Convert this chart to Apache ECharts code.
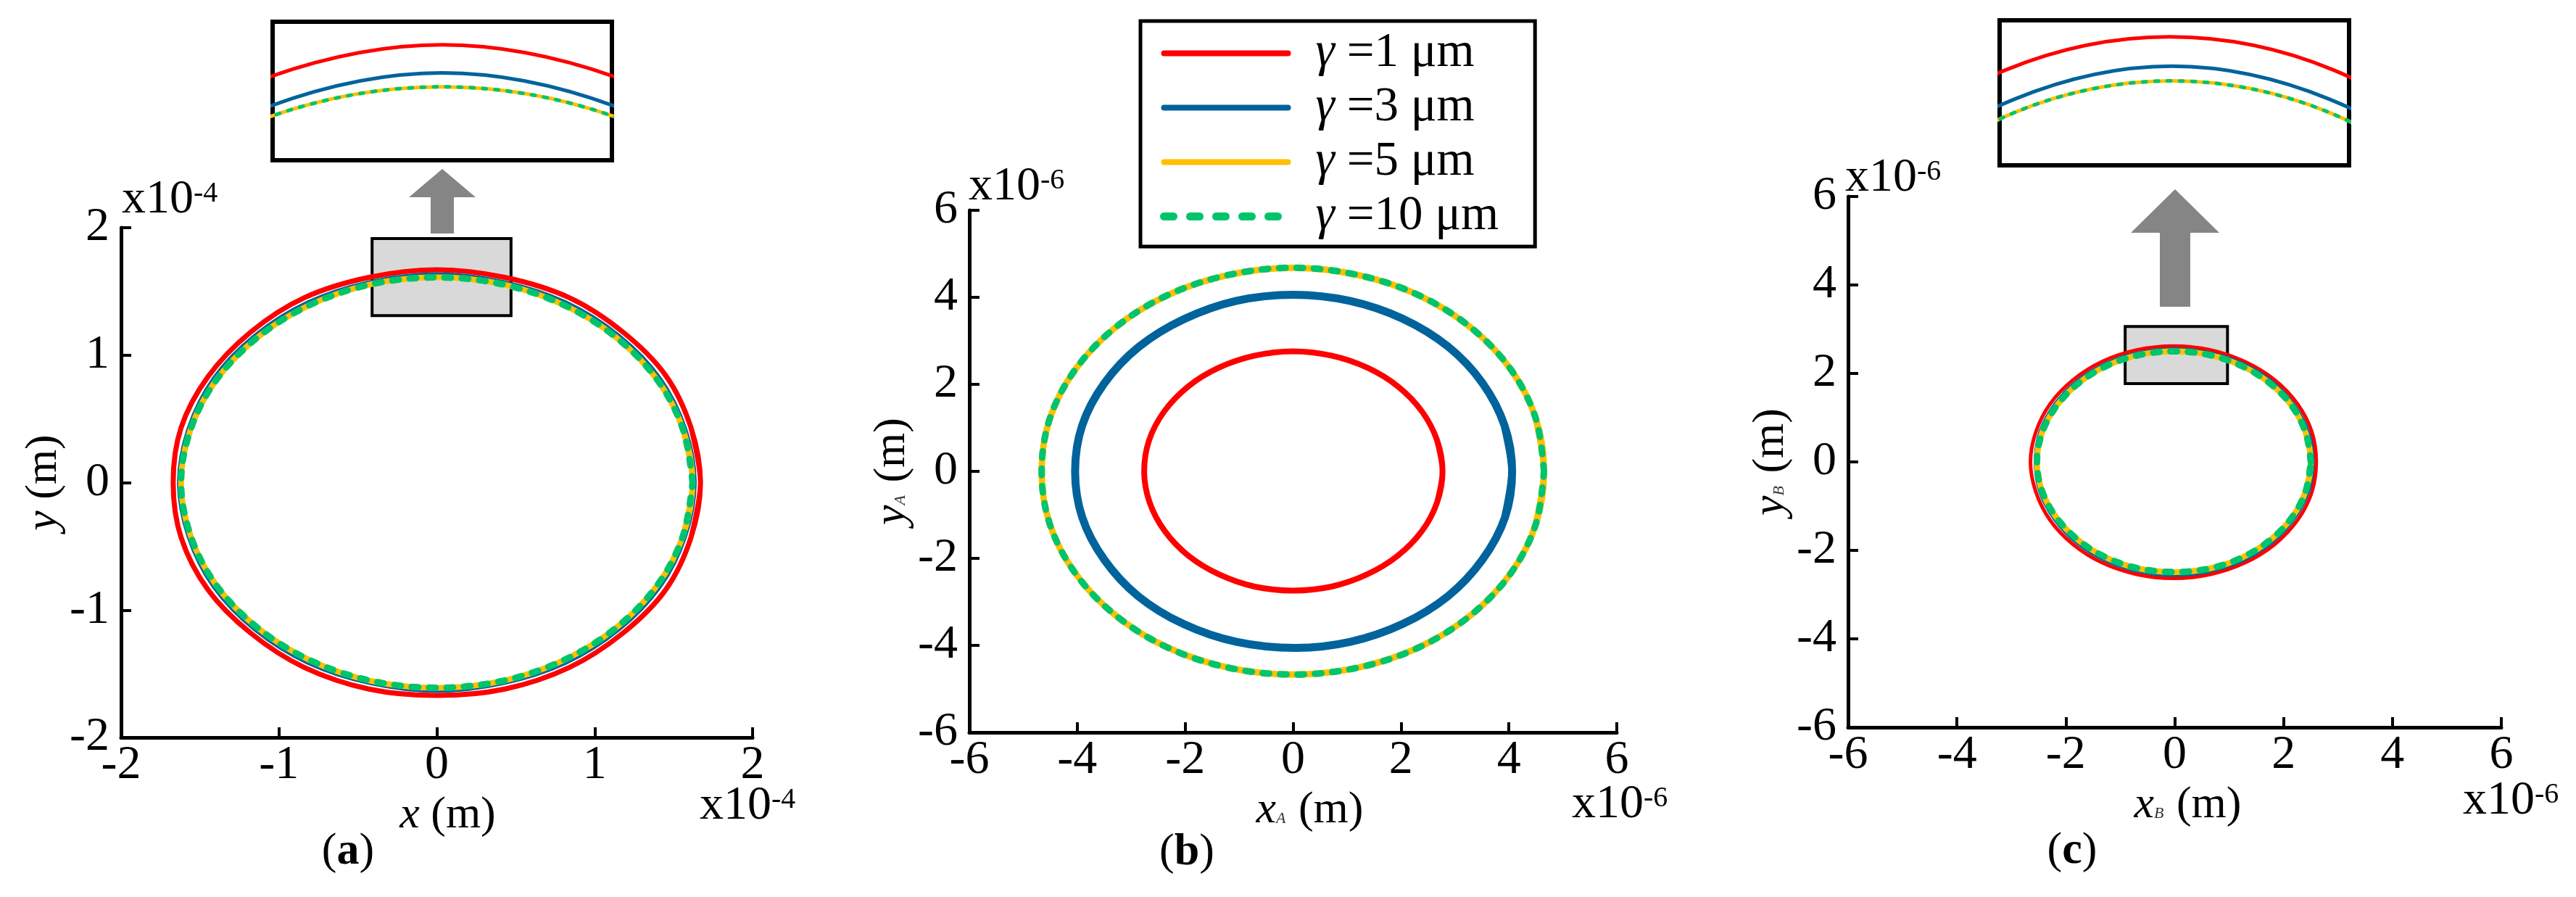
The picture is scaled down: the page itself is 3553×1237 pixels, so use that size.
<!DOCTYPE html>
<html><head><meta charset="utf-8">
<script src="https://cdn.jsdelivr.net/npm/echarts@6/dist/echarts.min.js"></script>
<style>html,body{margin:0;padding:0;background:#fff}#c{width:3553px;height:1237px}</style>
</head><body><div id="c"></div><script>
// ---------------- data ----------------
const seriesNames = ['γ =1 μm', 'γ =3 μm', 'γ =5 μm', 'γ =10 μm'];
const ticksA = [-2, -1, 0, 1, 2];            // panel (a), x10^-4 m
const ticksBC = [-6, -4, -2, 0, 2, 4, 6];    // panels (b),(c), x10^-6 m
const expA = '-4';
const expBC = '-6';
const panelLetters = ['a', 'b', 'c'];

// panel (a): x (m), y (m)  [x10^-4]
const aRed = [[1.67,0],[1.61,0.43],[1.45,0.84],[1.18,1.18],[0.84,1.45],[0.43,1.61],[0,1.67],[-0.43,1.61],[-0.84,1.45],[-1.18,1.18],[-1.45,0.83],[-1.62,0.43],[-1.67,0],[-1.62,-0.43],[-1.45,-0.84],[-1.18,-1.18],[-0.84,-1.45],[-0.43,-1.62],[0,-1.67],[0.43,-1.62],[0.84,-1.45],[1.18,-1.18],[1.45,-0.84],[1.61,-0.43],[1.67,0]];
const aBlue = [[1.63,0],[1.57,0.42],[1.41,0.815],[1.15,1.15],[0.815,1.41],[0.42,1.57],[0,1.63],[-0.42,1.57],[-0.815,1.41],[-1.15,1.15],[-1.41,0.815],[-1.57,0.42],[-1.63,0],[-1.57,-0.42],[-1.41,-0.815],[-1.15,-1.15],[-0.815,-1.41],[-0.42,-1.57],[0,-1.63],[0.42,-1.57],[0.815,-1.41],[1.15,-1.15],[1.41,-0.815],[1.57,-0.42],[1.63,0]];
const aYellow = [[1.62,0],[1.56,0.415],[1.40,0.80],[1.14,1.135],[0.81,1.39],[0.42,1.555],[0,1.61],[-0.42,1.555],[-0.81,1.39],[-1.14,1.135],[-1.40,0.80],[-1.56,0.415],[-1.62,0],[-1.56,-0.415],[-1.40,-0.80],[-1.14,-1.135],[-0.81,-1.39],[-0.42,-1.555],[0,-1.61],[0.42,-1.555],[0.81,-1.39],[1.14,-1.135],[1.40,-0.80],[1.56,-0.415],[1.62,0]];
const aGreen = [[1.62,0],[1.56,0.415],[1.40,0.80],[1.14,1.135],[0.81,1.39],[0.42,1.555],[0,1.61],[-0.42,1.555],[-0.81,1.39],[-1.14,1.135],[-1.40,0.80],[-1.56,0.415],[-1.62,0],[-1.56,-0.415],[-1.40,-0.80],[-1.14,-1.135],[-0.81,-1.39],[-0.42,-1.555],[0,-1.61],[0.42,-1.555],[0.81,-1.39],[1.14,-1.135],[1.40,-0.80],[1.56,-0.415],[1.62,0]];

// panel (b): xA (m), yA (m)  [x10^-6]
const bRed = [[2.77,0],[2.67,0.71],[2.39,1.375],[1.95,1.945],[1.38,2.38],[0.71,2.66],[0,2.76],[-0.71,2.66],[-1.38,2.38],[-1.95,1.945],[-2.39,1.375],[-2.67,0.71],[-2.76,0],[-2.66,-0.71],[-2.38,-1.37],[-1.94,-1.94],[-1.37,-2.37],[-0.71,-2.65],[0,-2.74],[0.71,-2.65],[1.37,-2.37],[1.94,-1.94],[2.39,-1.37],[2.67,-0.71],[2.77,0]];
const bBlue = [[4.06,0],[3.92,1.05],[3.51,2.03],[2.87,2.87],[2.03,3.51],[1.05,3.92],[0,4.06],[-1.05,3.92],[-2.02,3.50],[-2.86,2.86],[-3.50,2.02],[-3.91,1.05],[-4.04,0],[-3.91,-1.05],[-3.50,-2.03],[-2.87,-2.87],[-2.03,-3.51],[-1.05,-3.92],[0.05,-4.06],[1.06,-3.92],[2.03,-3.51],[2.87,-2.87],[3.51,-2.03],[3.93,-1.05],[4.06,0]];
const bYellow = [[4.65,0],[4.50,1.21],[4.04,2.335],[3.30,3.30],[2.335,4.045],[1.21,4.51],[0,4.68],[-1.21,4.51],[-2.335,4.045],[-3.30,3.30],[-4.04,2.335],[-4.51,1.21],[-4.66,0],[-4.51,-1.21],[-4.04,-2.335],[-3.30,-3.30],[-2.335,-4.045],[-1.21,-4.51],[0,-4.67],[1.21,-4.51],[2.335,-4.045],[3.30,-3.30],[4.04,-2.335],[4.50,-1.21],[4.65,0]];
const bGreen = [[4.65,0],[4.50,1.21],[4.04,2.335],[3.30,3.30],[2.335,4.045],[1.21,4.51],[0,4.68],[-1.21,4.51],[-2.335,4.045],[-3.30,3.30],[-4.04,2.335],[-4.51,1.21],[-4.66,0],[-4.51,-1.21],[-4.04,-2.335],[-3.30,-3.30],[-2.335,-4.045],[-1.21,-4.51],[0,-4.67],[1.21,-4.51],[2.335,-4.045],[3.30,-3.30],[4.04,-2.335],[4.50,-1.21],[4.65,0]];

// panel (c): xB (m), yB (m)  [x10^-6]
const cRed = [[2.60,0],[2.52,0.675],[2.26,1.305],[1.84,1.85],[1.29,2.265],[0.66,2.53],[-0.02,2.62],[-0.70,2.53],[-1.33,2.27],[-1.87,1.85],[-2.29,1.31],[-2.55,0.68],[-2.65,0],[-2.55,-0.68],[-2.29,-1.315],[-1.87,-1.86],[-1.33,-2.28],[-0.70,-2.54],[-0.02,-2.63],[0.66,-2.54],[1.29,-2.28],[1.84,-1.86],[2.26,-1.31],[2.52,-0.68],[2.60,0]];
const cBlue = [[2.53,0],[2.45,0.655],[2.19,1.27],[1.79,1.795],[1.26,2.20],[0.645,2.45],[-0.01,2.54],[-0.665,2.45],[-1.28,2.20],[-1.81,1.795],[-2.21,1.27],[-2.47,0.655],[-2.55,0],[-2.47,-0.655],[-2.21,-1.27],[-1.81,-1.80],[-1.28,-2.21],[-0.665,-2.46],[-0.01,-2.55],[0.645,-2.46],[1.26,-2.21],[1.79,-1.80],[2.19,-1.27],[2.45,-0.655],[2.53,0]];
const cYellow = [[2.50,0],[2.41,0.645],[2.16,1.25],[1.76,1.765],[1.24,2.165],[0.64,2.415],[-0.01,2.50],[-0.66,2.415],[-1.26,2.165],[-1.78,1.765],[-2.18,1.25],[-2.44,0.645],[-2.53,0],[-2.44,-0.645],[-2.18,-1.245],[-1.78,-1.76],[-1.26,-2.16],[-0.66,-2.41],[-0.01,-2.49],[0.64,-2.41],[1.24,-2.16],[1.76,-1.76],[2.16,-1.245],[2.41,-0.645],[2.50,0]];
const cGreen = [[2.50,0],[2.41,0.645],[2.16,1.25],[1.76,1.765],[1.24,2.165],[0.64,2.415],[-0.01,2.50],[-0.66,2.415],[-1.26,2.165],[-1.78,1.765],[-2.18,1.25],[-2.44,0.645],[-2.53,0],[-2.44,-0.645],[-2.18,-1.245],[-1.78,-1.76],[-1.26,-2.16],[-0.66,-2.41],[-0.01,-2.49],[0.64,-2.41],[1.24,-2.16],[1.76,-1.76],[2.16,-1.245],[2.41,-0.645],[2.50,0]];

// zoom windows (data coords) shown by the grey boxes / insets
const zoomBoxA = [[-0.41, 1.31], [0.47, 1.915]];
const zoomBoxC = [[-0.91, 1.77], [0.97, 3.06]];
const insetRangeA = { x: [-0.366, 0.366], y: [1.505, 1.703] };
const insetRangeC = { x: [-0.726, 0.726], y: [2.27, 2.665] };

// ---------------- styling / layout ----------------
const FONT = 'Liberation Serif';
const COLORS = ['#ff0000', '#00639c', '#ffc000', '#00c46c'];
const chart = echarts.init(document.getElementById('c'), null, { renderer: 'canvas' });

// closed ring with one point of overlap on each end so the smoothing is seamless
function ring(arr) { return [arr[arr.length - 2]].concat(arr, [arr[1]]); }

const grids = [
  { left: 167, top: 314, width: 871, height: 703 },
  { left: 1337, top: 290, width: 893, height: 720 },
  { left: 2549, top: 271, width: 901, height: 732 },
  { left: 376, top: 30, width: 468, height: 191, show: true, borderColor: '#000', borderWidth: 6, backgroundColor: '#fff' },
  { left: 2758, top: 28, width: 482, height: 200, show: true, borderColor: '#000', borderWidth: 6, backgroundColor: '#fff' }
];

const nameRich = {
  i: { fontFamily: FONT, fontSize: 62, fontStyle: 'italic', color: '#000' },
  sub: { fontFamily: FONT, fontSize: 22, fontStyle: 'italic', color: '#333', verticalAlign: 'bottom', padding: [0, 2, 9, 0] }
};

function mainAxis(dim, gi, ticks, name, nameGap, pad) {
  const step = ticks[1] - ticks[0];
  return {
    type: 'value', gridIndex: gi, min: ticks[0], max: ticks[ticks.length - 1], interval: step,
    name: name, nameLocation: 'middle', nameGap: nameGap,
    nameTextStyle: { fontFamily: FONT, fontSize: 62, color: '#000', rich: nameRich, padding: pad || 0 },
    axisLine: { show: true, onZero: false, lineStyle: { color: '#000', width: 5 } },
    axisTick: { show: true, inside: true, length: 14, lineStyle: { color: '#000', width: 4 } },
    axisLabel: { fontFamily: FONT, fontSize: 66, color: '#000', margin: dim === 'x' ? 6 : 16 },
    splitLine: { show: false }
  };
}
function insetAxis(gi, range) {
  return { type: 'value', gridIndex: gi, min: range[0], max: range[1], show: false, splitLine: { show: false } };
}

const xAxes = [
  mainAxis('x', 0, ticksA, '{i|x} (m)', 60, [0, 0, 0, 30]),
  mainAxis('x', 1, ticksBC, '{i|x}{sub|A} (m)', 62, [0, 0, 0, 46]),
  mainAxis('x', 2, ticksBC, '{i|x}{sub|B} (m)', 62, [0, 0, 0, 36]),
  insetAxis(3, insetRangeA.x),
  insetAxis(4, insetRangeC.x)
];
const yAxes = [
  mainAxis('y', 0, ticksA, '{i|y} (m)', 62),
  mainAxis('y', 1, ticksBC, '{i|y}{sub|A} (m)', 62),
  mainAxis('y', 2, ticksBC, '{i|y}{sub|B} (m)', 74),
  insetAxis(3, insetRangeA.y),
  insetAxis(4, insetRangeC.y)
];

const panelData = [
  [aRed, aBlue, aYellow, aGreen],
  [bRed, bBlue, bYellow, bGreen],
  [cRed, cBlue, cYellow, cGreen]
];
const mainWidths = [[7, 7, 8, 9], [8, 11, 9, 9], [5, 6, 8, 9]];

function lineSeries(k, gi, arr, width, isInset) {
  const dashed = k === 3;
  return {
    type: 'line', name: seriesNames[k], xAxisIndex: gi, yAxisIndex: gi,
    data: dashed ? arr : ring(arr),
    symbol: 'none', showSymbol: false, smooth: 0.34, silent: true, z: 3 + (dashed ? 1 : 0),
    lineStyle: {
      color: COLORS[k], width: width,
      type: dashed ? (isInset ? [5, 12] : [9, 15]) : 'solid',
      cap: dashed ? 'round' : 'butt'
    },
    itemStyle: { color: COLORS[k] }
  };
}

const series = [];
// panel (b) first so that the legend icons take their style from it
[1, 0, 2].forEach(p => {
  for (let k = 0; k < 4; k++) {
    const s = lineSeries(k, p, panelData[p][k], mainWidths[p][k], false);
    if (k === 0 && p !== 1) {
      const box = p === 0 ? zoomBoxA : zoomBoxC;
      s.markArea = {
        silent: true,
        itemStyle: { color: '#d9d9d9', borderColor: '#000', borderWidth: 4 },
        data: [[{ coord: [box[0][0], box[1][1]] }, { coord: [box[1][0], box[0][1]] }]]
      };
    }
    series.push(s);
  }
});
// insets
[[0, 3], [2, 4]].forEach(([p, gi]) => {
  for (let k = 0; k < 4; k++) series.push(lineSeries(k, gi, panelData[p][k], 5, true));
});

function expText(x, y, exp) {
  return {
    type: 'text', x: x, y: y, z: 10,
    style: {
      text: '{m|x10}{s|' + exp + '}', align: 'left', verticalAlign: 'middle',
      rich: {
        m: { fontFamily: FONT, fontSize: 66, lineHeight: 66, fill: '#000' },
        s: { fontFamily: FONT, fontSize: 40, lineHeight: 40, fill: '#000', verticalAlign: 'top', padding: [4, 0, 0, 0] }
      }
    }
  };
}
function panelLabel(x, y, letter) {
  return {
    type: 'text', x: x, y: y, z: 10,
    style: {
      text: '({b|' + letter + '})', align: 'center', verticalAlign: 'middle',
      fontFamily: FONT, fontSize: 62, fill: '#000',
      rich: { b: { fontFamily: FONT, fontSize: 62, fontWeight: 'bold', fill: '#000' } }
    }
  };
}
function arrow(cx, tipY, headY, bottomY, headHalf, shaftHalf) {
  return {
    type: 'polygon', z: 10, silent: true,
    shape: { points: [[cx, tipY], [cx + headHalf, headY], [cx + shaftHalf, headY], [cx + shaftHalf, bottomY],
                      [cx - shaftHalf, bottomY], [cx - shaftHalf, headY], [cx - headHalf, headY]] },
    style: { fill: '#858585' }
  };
}

const noMarker = { opacity: 0, borderWidth: 0 };
const option = {
  animation: false,
  backgroundColor: '#fff',
  grid: grids,
  xAxis: xAxes,
  yAxis: yAxes,
  series: series,
  legend: {
    orient: 'vertical', left: 1573, top: 29,
    padding: [11, 50, 8, 27], itemWidth: 171, itemHeight: 20, itemGap: 8,
    borderColor: '#000', borderWidth: 5, backgroundColor: '#fff',
    selectedMode: false,
    itemStyle: noMarker,
    data: [
      { name: seriesNames[0], itemStyle: noMarker, lineStyle: { width: 8, type: 'solid', cap: 'round' } },
      { name: seriesNames[1], itemStyle: noMarker, lineStyle: { width: 8, type: 'solid', cap: 'round' } },
      { name: seriesNames[2], itemStyle: noMarker, lineStyle: { width: 8, type: 'solid', cap: 'round' } },
      { name: seriesNames[3], itemStyle: noMarker, lineStyle: { width: 11, type: [13, 23], cap: 'round' } }
    ],
    formatter: n => '{g|γ}{t|' + n.slice(1) + '}',
    textStyle: {
      fontFamily: FONT, fontSize: 67, lineHeight: 60, color: '#000',
      rich: {
        g: { fontFamily: FONT, fontSize: 67, lineHeight: 60, fontStyle: 'italic', color: '#000', padding: [0, 0, 0, 33] },
        t: { fontFamily: FONT, fontSize: 67, lineHeight: 60, color: '#000' }
      }
    }
  },
  graphic: [
    expText(168, 276, expA),
    expText(1336, 258, expBC),
    expText(2545, 246, expBC),
    expText(965, 1112, expA),
    expText(2168, 1110, expBC),
    expText(3397, 1105, expBC),
    panelLabel(480, 1175, panelLetters[0]),
    panelLabel(1637, 1176, panelLetters[1]),
    panelLabel(2858, 1174, panelLetters[2]),
    arrow(610, 233, 272, 322, 46, 16),
    arrow(3000, 261, 321, 423, 61, 21)
  ]
};
chart.setOption(option);
</script></body></html>
